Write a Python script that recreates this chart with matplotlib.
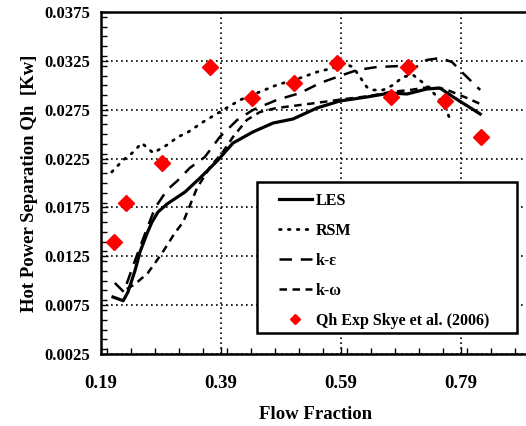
import matplotlib
matplotlib.use("Agg")
import matplotlib.pyplot as plt
from matplotlib.patches import Rectangle
from matplotlib.ticker import MultipleLocator, FixedLocator

plt.rcParams['font.family'] = ['Liberation Serif', 'DejaVu Serif']
plt.rcParams['font.weight'] = 'bold'

# LES (solid)
les_x = [0.210, 0.227, 0.235, 0.247, 0.255, 0.267, 0.275, 0.285, 0.300, 0.330, 0.355,
         0.385, 0.410, 0.443, 0.477, 0.510, 0.550, 0.588, 0.633, 0.672, 0.700, 0.733,
         0.755, 0.777, 0.822]
les_y = [0.00833, 0.00795, 0.00885, 0.0111, 0.01294, 0.01488, 0.01601, 0.01703, 0.01785,
         0.01908, 0.02051, 0.02235, 0.02409, 0.02522, 0.02614, 0.02655, 0.02768, 0.02839,
         0.02880, 0.02921, 0.02911, 0.02962, 0.02972, 0.02880, 0.02706]

# RSM (dotted)
rsm_x = [0.208, 0.227, 0.242, 0.258, 0.277, 0.300, 0.318, 0.333, 0.360, 0.388, 0.422,
         0.450, 0.483, 0.522, 0.550, 0.577, 0.593, 0.610, 0.625, 0.633, 0.643, 0.660,
         0.677, 0.693, 0.710, 0.725, 0.735, 0.755, 0.767, 0.772]
rsm_y = [0.02113, 0.02235, 0.02307, 0.02409, 0.02307, 0.02389, 0.02471, 0.02512, 0.02624,
         0.02727, 0.02850, 0.02921, 0.03003, 0.03075, 0.03136, 0.03177, 0.03228, 0.03187,
         0.03054, 0.02982, 0.02952, 0.02952, 0.03003, 0.03085, 0.03106, 0.03034, 0.02982,
         0.02850, 0.02727, 0.02645]

# k-epsilon (long dash)
ke_x = [0.213, 0.228, 0.238, 0.250, 0.267, 0.280, 0.300, 0.317, 0.338, 0.363, 0.388,
        0.417, 0.443, 0.483, 0.522, 0.555, 0.593, 0.617, 0.650, 0.688, 0.710, 0.733,
        0.755, 0.775, 0.793, 0.822]
ke_y = [0.00977, 0.00885, 0.01058, 0.01263, 0.01539, 0.01744, 0.01928, 0.02021, 0.02154,
        0.02266, 0.02471, 0.02645, 0.02747, 0.02850, 0.02921, 0.03023, 0.03106, 0.03156,
        0.03187, 0.03197, 0.03167, 0.03259, 0.03279, 0.03238, 0.03126, 0.02952]

# k-omega (short dash)
kw_x = [0.233, 0.247, 0.268, 0.292, 0.313, 0.327, 0.350, 0.372, 0.393, 0.410, 0.433,
        0.455, 0.483, 0.522, 0.560, 0.597, 0.638, 0.672, 0.705, 0.738, 0.763, 0.800, 0.822]
kw_y = [0.00915, 0.00966, 0.01079, 0.01284, 0.01488, 0.01601, 0.01949, 0.02164, 0.02317,
        0.02471, 0.02645, 0.02727, 0.02768, 0.02798, 0.02829, 0.02860, 0.02890, 0.02931,
        0.02952, 0.02982, 0.02962, 0.02870, 0.02809]

# experiment, Skye et al. (2006)
exp_x = [0.212, 0.232, 0.291, 0.371, 0.441, 0.511, 0.583, 0.673, 0.702, 0.763, 0.824]
exp_y = [0.0140, 0.0180, 0.0220, 0.0319, 0.0287, 0.0302, 0.0323, 0.0288, 0.0319, 0.0284, 0.0247]

x_ticks = [0.19, 0.39, 0.59, 0.79]
y_ticks = [0.0025, 0.0075, 0.0125, 0.0175, 0.0225, 0.0275, 0.0325, 0.0375]

fig = plt.figure(figsize=(5.26, 4.26), dpi=100)
ax = fig.add_axes([101 / 526, 72 / 426, 430 / 526, 342 / 426])

ax.plot(les_x, les_y, color='black', lw=2.3, label='LES', zorder=5)
ax.plot(rsm_x, rsm_y, color='black', lw=2.0, linestyle=(0, (0.6, 2.6)),
        dash_capstyle='round', label='RSM', zorder=4)
ax.plot(ke_x, ke_y, color='black', lw=1.8, linestyle=(0, (5, 3.5)), label='k-ε', zorder=4)
ax.plot(kw_x, kw_y, color='black', lw=1.8, linestyle=(0, (3, 2.2)), label='k-ω', zorder=4)
ax.plot(exp_x, exp_y, linestyle='none', marker='D', color='red', markersize=8,
        label='Qh Exp Skye et al. (2006)', zorder=6)

ax.set_xlim(0.19, 0.19 + 430 / 600)
ax.set_ylim(0.0025, 0.0375)
ax.xaxis.set_major_locator(FixedLocator(x_ticks))
ax.xaxis.set_minor_locator(MultipleLocator(0.04))
ax.yaxis.set_major_locator(FixedLocator(y_ticks))
ax.yaxis.set_minor_locator(MultipleLocator(0.001))
ax.set_xticklabels(['%.2f' % v for v in x_ticks])
ax.set_yticklabels(['%.4f' % v for v in y_ticks])
ax.tick_params(which='both', direction='in', top=False, right=False, width=1)
ax.tick_params(which='major', length=5)
ax.tick_params(which='minor', length=4)
ax.tick_params(axis='x', labelsize=13.5, pad=15)
ax.tick_params(axis='y', labelsize=12, pad=8)

ax.grid(True, which='major', color='black', linestyle=(0, (1, 2)), lw=1.2)
for s in ax.spines.values():
    s.set_linewidth(1.8)

ax.set_xlabel('Flow Fraction', fontsize=13.5, fontweight='bold', labelpad=10)
ax.set_ylabel('Hot Power Separation Qh  [Kw]', fontsize=13.5, fontweight='bold', labelpad=4)

# legend frame drawn as its own box, entries placed inside it
frame = Rectangle((0.363, 0.061), 0.605, 0.442, transform=ax.transAxes, facecolor='white',
                  edgecolor='black', lw=1.8, zorder=9, clip_on=False)
ax.add_patch(frame)
leg = ax.legend(loc='upper left', bbox_to_anchor=(0.413, 0.472), borderaxespad=0,
                borderpad=0, fontsize=11.5, frameon=False, handlelength=2.1,
                handletextpad=0.25, labelspacing=0.88, markerscale=0.6)
leg.set_zorder(10)

fig.savefig('out.png', dpi=100)
